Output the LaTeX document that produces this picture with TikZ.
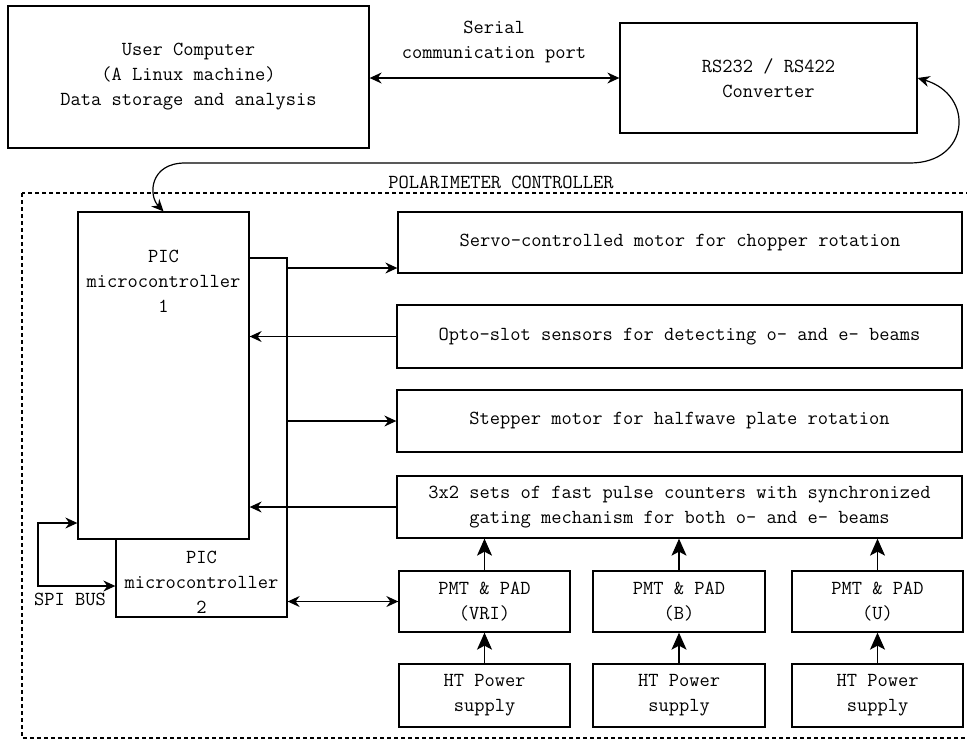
\documentclass[tikz,border=0pt]{standalone}
\usepackage{fontspec}
\usetikzlibrary{arrows.meta,calc}
\begin{document}
\begin{tikzpicture}[x=1pt,y=-1pt,
  txt/.style={font=\ttfamily\fontsize{19.9}{25}\selectfont,align=center,inner sep=0pt},
  box/.style={draw,line width=1.3pt,inner sep=0pt,txt,fill=white},
  conn/.style={line width=1.2pt,-{Stealth[length=12pt,width=11pt,inset=4pt]}},
  bconn/.style={line width=1.2pt,{Stealth[length=12pt,width=11pt,inset=4pt]}-{Stealth[length=12pt,width=11pt,inset=4pt]}},
  bigconn/.style={line width=1.2pt,-{Stealth[length=17pt,width=15pt,inset=4pt]}}]
\useasboundingbox (0,0) rectangle (967,740);
\fill[white] (0,0) rectangle (967,740);
% dashed controller frame
\draw[dashed,line width=1.1pt,dash pattern=on 4pt off 3pt] (22,193) rectangle (980,738);
\node[txt] (polctl) at (501,182) {POLARIMETER CONTROLLER};
% top boxes
\node[box,minimum width=361pt,minimum height=142pt] (user) at (188.5,77) {User Computer\\(A Linux machine)\\Data storage and analysis};
\node[box,minimum width=297pt,minimum height=110pt] (rs) at (768.5,78) {RS232 / RS422\\Converter};
\draw[bconn] (user.east |- rs.west) -- (rs.west);
\node[txt] (serial) at (494,42) {Serial\\communication port};
% PIC boxes
\node[box,minimum width=171pt,minimum height=359pt] (pic2) at (201.5,437.5) {};
\node[txt] (pic2txt) at (201.5,582) {PIC\\microcontroller\\2};
\node[box,minimum width=171pt,minimum height=327pt] (pic1) at (163.5,375.5) {};
\node[txt] (pic1txt) at (163.5,281) {PIC\\microcontroller\\1};
% curved link
\draw[bconn] (rs.east) .. controls (975,95) and (970,163) .. (910,163) -- (185,163) .. controls (150,163) and (148,195) .. (pic1.north);
% right boxes
\node[box,minimum width=564pt,minimum height=61pt] (servo) at (680,242.5) {Servo-controlled motor for chopper rotation};
\node[box,minimum width=565pt,minimum height=63pt] (opto) at (679.5,336.5) {Opto-slot sensors for detecting o- and e- beams};
\node[box,minimum width=565pt,minimum height=62pt] (stepper) at (679.5,421) {Stepper motor for halfwave plate rotation};
\node[box,minimum width=565pt,minimum height=62pt] (count) at (679.5,507) {3x2 sets of fast pulse counters with synchronized\\gating mechanism for both o- and e- beams};
% PMT and HT boxes
\node[box,minimum width=171pt,minimum height=61pt] (pmt1) at (484.5,601.5) {PMT \& PAD\\(VRI)};
\node[box,minimum width=172pt,minimum height=61pt] (pmt2) at (679,601.5) {PMT \& PAD\\(B)};
\node[box,minimum width=171pt,minimum height=61pt] (pmt3) at (877.5,601.5) {PMT \& PAD\\(U)};
\node[box,minimum width=171pt,minimum height=63pt] (ht1) at (484.5,695.5) {HT Power\\supply};
\node[box,minimum width=172pt,minimum height=63pt] (ht2) at (679,695.5) {HT Power\\supply};
\node[box,minimum width=171pt,minimum height=63pt] (ht3) at (877.5,695.5) {HT Power\\supply};
% bus arrows
\coordinate (servoy) at (287,268);
\draw[conn] (servoy) -- (servoy -| servo.west);
\draw[conn] (opto.west) -- (opto.west -| pic1.east);
\draw[conn] (pic2.east |- stepper.west) -- (stepper.west);
\draw[conn] (count.west) -- (count.west -| pic1.east);
\draw[bconn] (pic2.east |- pmt1.west) -- (pmt1.west);
% vertical arrows
\draw[bigconn] (pmt1.north) -- (pmt1.north |- count.south);
\draw[bigconn] (pmt2.north) -- (pmt2.north |- count.south);
\draw[bigconn] (pmt3.north) -- (pmt3.north |- count.south);
\draw[bigconn] (ht1.north) -- (pmt1.south);
\draw[bigconn] (ht2.north) -- (pmt2.south);
\draw[bigconn] (ht3.north) -- (pmt3.south);
% SPI bus
\coordinate (spitop) at (38,523);
\coordinate (spibot) at (38,586);
\draw[bconn] (pic1.west |- spitop) -- (spitop) -- (spibot) -- (pic2.west |- spibot);
\node[txt] (spi) at (70,599) {SPI BUS};
\end{tikzpicture}
\end{document}
